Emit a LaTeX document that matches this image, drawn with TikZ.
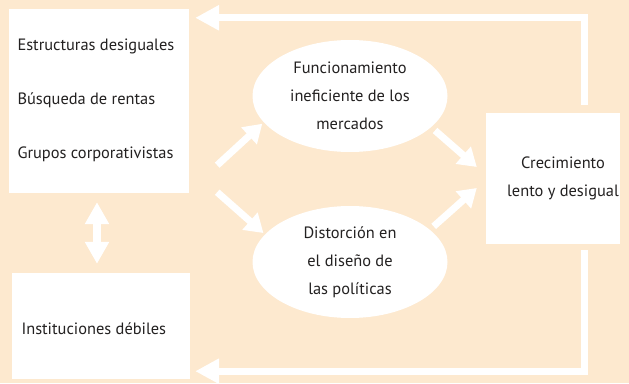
\documentclass[tikz,border=0pt]{standalone}
\usepackage{fontspec}
\setmainfont{PT Sans}
\usetikzlibrary{positioning, calc, arrows.meta, shapes.geometric}
\definecolor{fondo}{RGB}{253,233,207}
\definecolor{texto}{RGB}{35,33,33}

\begin{document}
\begin{tikzpicture}[
    x=1pt, y=1pt,
    font=\fontsize{16.4}{28}\selectfont, text=texto,
    caja/.style={draw=none, fill=white, minimum width=#1},
    elipse/.style={ellipse, fill=white, minimum width=195pt, minimum height=112pt, align=center, inner sep=0pt},
    flecha/.style={white, line width=7pt, -{Triangle[width=22pt, length=18pt]}},
    retro/.style={white, line width=7pt, -{Triangle[width=24pt, length=24pt]}},
    doble/.style={white, line width=8pt, {Triangle[width=23pt, length=22pt]}-{Triangle[width=23pt, length=22pt]}}
]
  % fondo
  \fill[fondo] (0,0) rectangle (629,383);

  % cajas
  \node[caja=180pt, minimum height=184pt] (estr) at (99,282) {};
  \node[caja=178pt, minimum height=106pt] (inst) at (101,57) {};
  \node[caja=134pt, minimum height=131pt, align=center] (crec) at (553,204.5) {};
  \node[anchor=west] (t1) at (14,337) {Estructuras desiguales};
  \node[anchor=west] (t2) at (14,283) {Búsqueda de rentas};
  \node[anchor=west] (t3) at (14,229) {Grupos corporativistas};
  \node[anchor=west] (t4) at (18,54) {Instituciones débiles};
  \node[align=center] (t5) at (563,205) {Crecimiento\\lento y desigual};

  % elipses
  \node[elipse] (fun) at (350,287) {Funcionamiento\\ineficiente de los\\mercados};
  \node[elipse] (dis) at (350,121) {Distorción en\\el diseño de\\las políticas};

  % flechas
  \draw[flecha, shorten >=2pt] ($(estr.south east)+(28,28)$) -- (fun.197);
  \draw[flecha, shorten >=2pt] ($(estr.south east)+(28,1)$) -- (dis.162);
  \draw[flecha, shorten <=5pt] (fun.-21) -- ($(crec.west)+(-9,11.5)$);
  \draw[flecha, shorten <=5pt] (dis.22) -- ($(crec.west)+(-9,-9.5)$);
  \draw[doble] ($(estr.south)+(-2,-9)$) -- ($(inst.north)+(-4,9)$);

  % retroalimentacion
  \draw[retro] ($(crec.north)+(31,8)$) |- ($(estr.north east)+(6,-9)$);
  \draw[retro] ($(crec.south)+(31,-6)$) |- ($(inst.south east)+(5,8)$);
\end{tikzpicture}
\end{document}
